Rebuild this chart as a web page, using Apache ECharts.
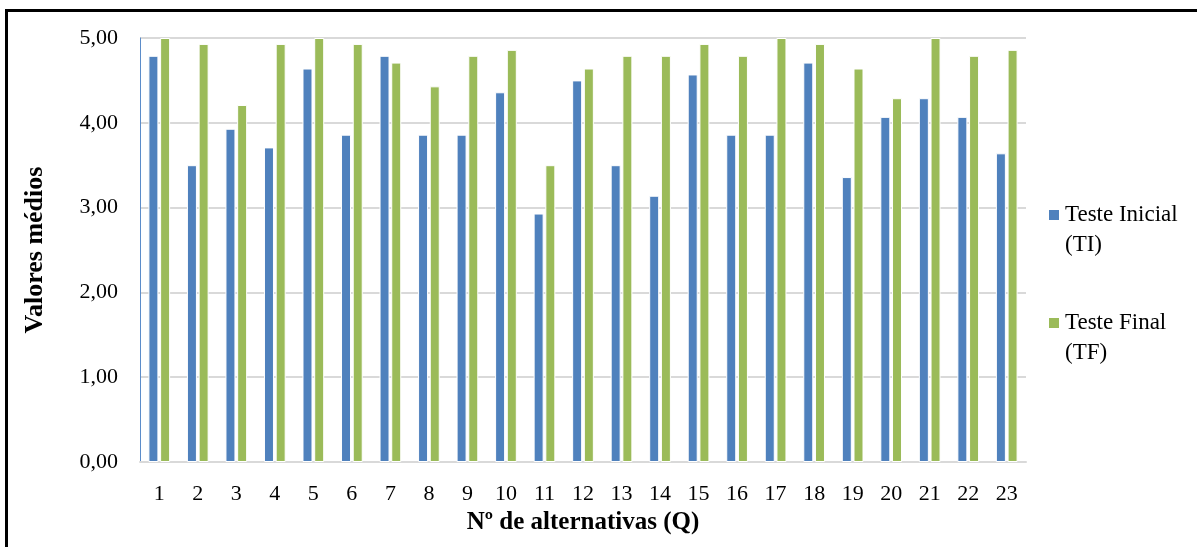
<!DOCTYPE html>
<html>
<head>
<meta charset="utf-8">
<script src="https://cdn.jsdelivr.net/npm/echarts@6/dist/echarts.min.js"></script>
<style>
  html, body { margin: 0; padding: 0; width: 1197px; height: 547px; overflow: hidden; background: #ffffff; }
  #chart { position: absolute; left: 0; top: 0; width: 1197px; height: 547px; }
  #frame { position: absolute; left: 5px; top: 9px; width: 1400px; height: 800px; border-left: 3px solid #000; border-top: 3px solid #000; pointer-events: none; }
</style>
</head>
<body>
<div id="chart"></div>
<div id="frame"></div>
<script>
const categories = ['1','2','3','4','5','6','7','8','9','10','11','12','13','14','15','16','17','18','19','20','21','22','23'];
const seriesNames = ['Teste Inicial\n(TI)', 'Teste Final\n(TF)'];
const testeInicial = [4.79, 3.50, 3.93, 3.71, 4.64, 3.86, 4.79, 3.86, 3.86, 4.36, 2.93, 4.50, 3.50, 3.14, 4.57, 3.86, 3.86, 4.71, 3.36, 4.07, 4.29, 4.07, 3.64];
const testeFinal   = [5.00, 4.93, 4.21, 4.93, 5.00, 4.93, 4.71, 4.43, 4.79, 4.86, 3.50, 4.64, 4.79, 4.79, 4.93, 4.79, 5.00, 4.93, 4.64, 4.29, 5.00, 4.79, 4.86];
const yTickLabels = ['0,00', '1,00', '2,00', '3,00', '4,00', '5,00'];
const xAxisTitle = 'Nº de alternativas (Q)';
const yAxisTitle = 'Valores médios';

const serif = '"Liberation Serif", "DejaVu Serif", serif';
const chart = echarts.init(document.getElementById('chart'), null, { renderer: 'canvas' });
chart.setOption({
  backgroundColor: 'transparent',
  animation: false,
  grid: { left: 140, right: 171, top: 38, bottom: 85, containLabel: false },
  legend: {
    orient: 'vertical',
    left: 1047,
    top: 170,
    padding: 0,
    itemWidth: 12,
    itemHeight: 12,
    itemGap: 18,
    icon: 'rect',
    data: seriesNames,
    formatter: function (name) { return ' \n' + name; },
    textStyle: { fontFamily: serif, fontSize: 23, color: '#000', lineHeight: 30 }
  },
  xAxis: {
    type: 'category',
    data: categories,
    name: xAxisTitle,
    nameLocation: 'middle',
    nameGap: 48,
    nameTextStyle: { fontFamily: serif, fontSize: 25, fontWeight: 'bold', color: '#000' },
    axisLine: { lineStyle: { color: '#d9d9d9', width: 2 } },
    axisTick: { show: false },
    axisLabel: { fontFamily: serif, fontSize: 22, color: '#000', margin: 21 }
  },
  yAxis: {
    type: 'value',
    min: 0, max: 5, interval: 1,
    name: yAxisTitle,
    nameLocation: 'middle',
    nameGap: 92,
    nameRotate: 90,
    nameTextStyle: { fontFamily: serif, fontSize: 26, fontWeight: 'bold', color: '#000' },
    axisLine: { show: true, lineStyle: { color: '#5b8cc9', width: 1 } },
    axisTick: { show: false },
    splitLine: { lineStyle: { color: '#d9d9d9', width: 2 } },
    axisLabel: {
      fontFamily: serif, fontSize: 22, color: '#000', margin: 22,
      formatter: function (v) { return yTickLabels[Math.round(v)]; }
    }
  },
  series: [
    {
      name: seriesNames[0], type: 'bar', data: testeInicial,
      barWidth: 10, barGap: '17%',
      itemStyle: { color: '#4f81bd', borderColor: '#ffffff', borderWidth: 1 }
    },
    {
      name: seriesNames[1], type: 'bar', data: testeFinal,
      barWidth: 10, barGap: '17%',
      itemStyle: { color: '#9bbb59', borderColor: '#ffffff', borderWidth: 1 }
    }
  ]
});
</script>
</body>
</html>
